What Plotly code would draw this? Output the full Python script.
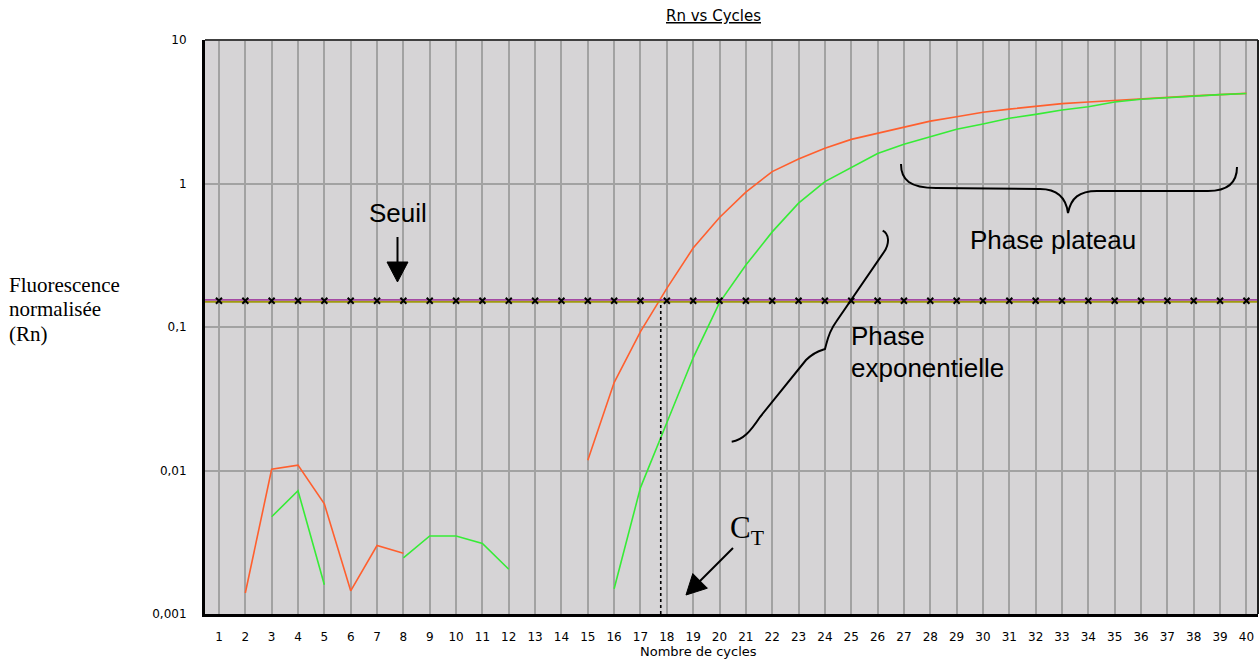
import re
import plotly.graph_objects as go

# ---- data -----------------------------------------------------------------
cycles = list(range(1, 41))

# Normalised fluorescence (Rn) per cycle; None where the value is not plotted
rn_orange = [None, 0.0014, 0.0102, 0.0109, 0.00585, 0.00145, 0.0030, 0.00265,
             None, None, None, None, None, None,
             0.0118, 0.041, 0.093, 0.186, 0.355, 0.58, 0.87, 1.21, 1.48, 1.76,
             2.03, 2.24, 2.48, 2.72, 2.92, 3.14, 3.30, 3.45, 3.60, 3.70,
             3.80, 3.90, 3.98, 4.08, 4.16, 4.25]
rn_green = [None, None, 0.00476, 0.00723, 0.0016, None, None, 0.00246,
            0.0035, 0.0035, 0.0031, 0.00205, None, None, None,
            0.0015, 0.0076, 0.0215, 0.061, 0.148, 0.27, 0.46, 0.73, 1.03,
            1.30, 1.62, 1.88, 2.13, 2.39, 2.60, 2.85, 3.03, 3.25, 3.43,
            3.70, 3.86, 3.97, 4.07, 4.16, 4.24]

threshold_purple = 0.1545
threshold_olive = 0.150
ct_cycle = 17.77

y_tick_vals = [0.001, 0.01, 0.1, 1, 10]
y_tick_text = ["0,001", "0,01", "0,1", "1", "10"]
x_range = [0.47, 40.44]

# ---- layout geometry (pixels) -------------------------------------------
FIG_W, FIG_H = 1259, 660
M_L, M_R, M_T, M_B = 205, 1, 40, 46
PW = FIG_W - M_L - M_R
PH = FIG_H - M_T - M_B


def px(x):
    return (x - M_L) / PW


def py(y):
    return (FIG_H - M_B - y) / PH


def paper_path(path):
    """Convert an SVG path written in pixel units to paper units."""
    def repl(m):
        return f"{px(float(m.group(1))):.5f},{py(float(m.group(2))):.5f}"
    return re.sub(r"(-?\d+(?:\.\d+)?),(-?\d+(?:\.\d+)?)", repl, path)


SANS = "DejaVu Sans"
ARIAL = "Liberation Sans, Arial"
SERIF = "Liberation Serif, Times New Roman"

fig = go.Figure()

fig.add_trace(go.Scatter(x=cycles, y=rn_orange, mode="lines",
                         line=dict(color="#ff5f2e", width=1.6),
                         connectgaps=False, hoverinfo="skip"))
fig.add_trace(go.Scatter(x=cycles, y=rn_green, mode="lines",
                         line=dict(color="#36ec36", width=1.6),
                         connectgaps=False, hoverinfo="skip"))

# Ct marker: dotted drop from the threshold to the cycle axis
fig.add_trace(go.Scatter(x=[ct_cycle, ct_cycle], y=[y_tick_vals[0], threshold_purple],
                         mode="lines", line=dict(color="black", width=1.6, dash="dot"),
                         hoverinfo="skip"))

# Threshold lines with cycle markers
fig.add_trace(go.Scatter(x=x_range, y=[threshold_olive] * 2, mode="lines",
                         line=dict(color="#a09a10", width=1.8), hoverinfo="skip"))
fig.add_trace(go.Scatter(x=x_range, y=[threshold_purple] * 2, mode="lines",
                         line=dict(color="#a448a4", width=1.8), hoverinfo="skip"))
fig.add_trace(go.Scatter(x=cycles, y=[(threshold_purple + threshold_olive) / 2] * len(cycles),
                         mode="markers",
                         marker=dict(symbol="x-thin", size=6, color="black",
                                     line=dict(color="black", width=2)),
                         hoverinfo="skip"))

shapes = []
# Plateau brace
shapes.append(dict(type="path", xref="paper", yref="paper",
                   path=paper_path("M 901,164 C 901,180 910,188 936,188 L 1040,189 "
                                   "C 1058,189 1066,198 1068,213 C 1071,198 1079,191 1097,191 "
                                   "L 1208,191 C 1228,191 1237,183 1237,167"),
                   line=dict(color="black", width=2)))
# Exponential-phase brace
shapes.append(dict(type="path", xref="paper", yref="paper",
                   path=paper_path("M 882.7,230.7 C 889,234 890,243 884,252 L 836,322 "
                                   "C 828,333 827,342 825,349 C 822,350 815,351 806,360 "
                                   "L 760,417 C 750,432 743,440 731.7,441.7"),
                   line=dict(color="black", width=2)))
# Arrow toward the threshold
shapes.append(dict(type="line", xref="paper", yref="paper",
                   x0=px(397.5), y0=py(237), x1=px(397.5), y1=py(265),
                   line=dict(color="black", width=2)))
shapes.append(dict(type="path", xref="paper", yref="paper",
                   path=paper_path("M 387,262 L 408,262 L 397.5,282 Z"),
                   fillcolor="black", line=dict(color="black", width=1)))
# Arrow toward Ct
shapes.append(dict(type="line", xref="paper", yref="paper",
                   x0=px(733), y0=py(548), x1=px(698), y1=py(583),
                   line=dict(color="black", width=2)))
shapes.append(dict(type="path", xref="paper", yref="paper",
                   path=paper_path("M 707.4,588.2 L 692.8,573.6 L 686,595 Z"),
                   fillcolor="black", line=dict(color="black", width=1)))
# Top and right frame
shapes.append(dict(type="line", xref="paper", yref="paper", x0=0, x1=1, y0=1, y1=1,
                   line=dict(color="#404040", width=2)))
shapes.append(dict(type="line", xref="paper", yref="paper", x0=1, x1=1, y0=0, y1=1,
                   line=dict(color="#202020", width=2)))

annotations = []


def note(text, x, y, size, family, xanchor="center", yanchor="middle"):
    annotations.append(dict(text=text, x=px(x), y=py(y), xref="paper", yref="paper",
                            showarrow=False, xanchor=xanchor, yanchor=yanchor,
                            font=dict(size=size, family=family, color="black")))


note("<u>Rn vs Cycles</u>", 713, 16, 15, SANS)
note("Nombre de cycles", 698.5, 651, 13, SANS)
note("Seuil", 398, 213, 26, ARIAL)
note("Phase plateau", 1053, 240, 26, ARIAL)
note("Phase", 849, 336, 26, ARIAL, xanchor="left")
note("exponentielle", 849, 368, 26, ARIAL, xanchor="left")
note("C<sub>T</sub>", 728, 530, 31, SERIF, xanchor="left")
note("Fluorescence", 7, 285, 21, SERIF, xanchor="left")
note("normalisée", 7, 309, 21, SERIF, xanchor="left")
note("(Rn)", 7, 334, 21, SERIF, xanchor="left")

fig.update_layout(
    width=FIG_W, height=FIG_H,
    margin=dict(l=M_L, r=M_R, t=M_T, b=M_B, pad=0),
    paper_bgcolor="white", plot_bgcolor="#d6d4d6",
    showlegend=False,
    shapes=shapes, annotations=annotations,
    xaxis=dict(range=x_range, tick0=1, dtick=1, showgrid=True,
               gridcolor="#a2a2a2", gridwidth=1.5, zeroline=False,
               showline=True, linecolor="black", linewidth=3,
               ticks="", ticklabelstandoff=10,
               tickfont=dict(family=SANS, size=12, color="black")),
    yaxis=dict(type="log", range=[-3, 1], tickvals=y_tick_vals, ticktext=y_tick_text,
               showgrid=True, gridcolor="#a2a2a2", gridwidth=1.5, zeroline=False,
               showline=True, linecolor="black", linewidth=3,
               ticks="", ticklabelstandoff=13,
               tickfont=dict(family=SANS, size=12, color="black")),
)

fig.write_html("out.html")
